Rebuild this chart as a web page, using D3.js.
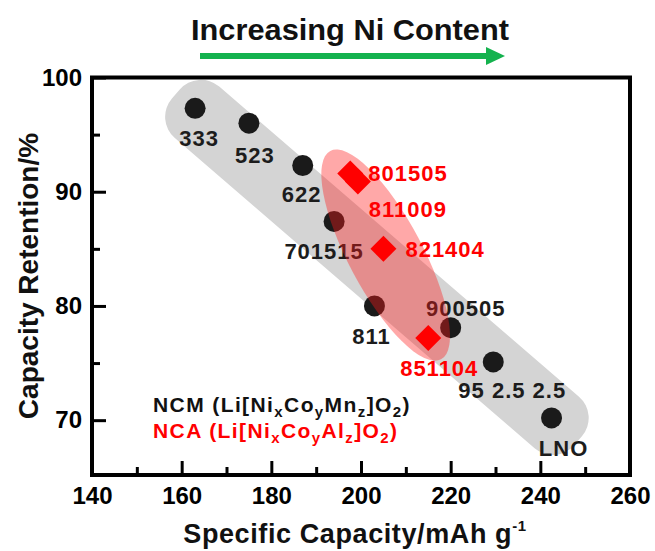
<!DOCTYPE html>
<html><head><meta charset="utf-8">
<script src="https://cdn.jsdelivr.net/npm/d3@7"></script>
<style>html,body{margin:0;padding:0;background:#fff;} svg{display:block;}</style>
</head><body>
<svg id="chart" width="655" height="551"></svg>
<script>
// NCM layered oxides, Li[NixCoyMnz]O2
const ncmNames = ["333", "523", "622", "701515", "811", "900505", "95 2.5 2.5", "LNO"];
const ncmCapacity = [163, 175, 187, 194, 203, 220, 229.5, 242.5];
const ncmRetention = [97.3, 96.0, 92.3, 87.4, 80.0, 78.1, 75.1, 70.2];

// NCA layered oxides, Li[NixCoyAlz]O2
const ncaNames = ["801505", "811009", "821404", "851104"];
const ncaCapacity = [197.6, 199.3, 205, 215];
const ncaRetention = [91.6, 90.9, 85.0, 77.2];

const xTicks = [140, 160, 180, 200, 220, 240, 260];
const xMinorTicks = [150, 170, 190, 210, 230, 250];
const yTicks = [70, 80, 90, 100];
const yMinorTicks = [75, 85, 95];

// label placement (pixel offsets from each marker)
const ncmLabelPos = {
  "333": [4, 38], "523": [6, 40], "622": [-1, 37], "701515": [-10, 38],
  "811": [-3, 38], "900505": [15, -12], "95 2.5 2.5": [19, 36], "LNO": [12, 38]
};
const ncaLabelPos = {
  "801505": [18, 8, "start"], "811009": [11, 36, "start"],
  "821404": [22, 8, "start"], "851104": [11, 38, "middle"]
};

const FONT = "'Liberation Sans', Arial, Helvetica, sans-serif";
const svg = d3.select("#chart").style("font-family", FONT).style("font-weight", "bold");

const x = d3.scaleLinear().domain([140, 260]).range([92, 630]);
const y = d3.scaleLinear().domain([65.2, 100]).range([475, 77.5]);

// title and direction arrow
svg.append("text").attr("x", 350).attr("y", 40).attr("text-anchor", "middle")
  .attr("font-size", 30).attr("textLength", 318).attr("lengthAdjust", "spacingAndGlyphs")
  .attr("fill", "#111").text("Increasing Ni Content");
svg.append("line").attr("x1", 200).attr("x2", 490).attr("y1", 56).attr("y2", 56)
  .attr("stroke", "#14b24e").attr("stroke-width", 6);
svg.append("path").attr("d", "M486,47 L505,56 L486,65 Z").attr("fill", "#14b24e");

// grey band behind the NCM series
const bandStart = [158.7, 98.55], bandEnd = [248.4, 68.2];
const p1 = [x(bandStart[0]), y(bandStart[1])], p2 = [x(bandEnd[0]), y(bandEnd[1])];
const bandLen = Math.hypot(p2[0] - p1[0], p2[1] - p1[1]);
const bandAng = Math.atan2(p2[1] - p1[1], p2[0] - p1[0]) * 180 / Math.PI;
svg.append("g").attr("transform", `translate(${p1[0]},${p1[1]}) rotate(${bandAng})`)
  .append("rect").attr("x", 0).attr("y", -34).attr("width", bandLen).attr("height", 68)
  .attr("rx", 28).attr("ry", 28).attr("fill", "#d4d4d4");

// NCM markers and labels
const ncm = ncmNames.map((n, i) => ({name: n, cap: ncmCapacity[i], ret: ncmRetention[i]}));
svg.append("g").selectAll("circle").data(ncm).join("circle")
  .attr("cx", d => x(d.cap)).attr("cy", d => y(d.ret)).attr("r", 10.5).attr("fill", "#1a1a1a");
svg.append("g").selectAll("text").data(ncm).join("text")
  .attr("x", d => x(d.cap) + ncmLabelPos[d.name][0]).attr("y", d => y(d.ret) + ncmLabelPos[d.name][1])
  .attr("text-anchor", "middle").attr("font-size", 22).attr("letter-spacing", 1)
  .attr("fill", "#1c1c1c").text(d => d.name);

// translucent red ellipse over the NCA series
const ellCenter = [205.5, 84.45];
svg.append("g").attr("transform", `translate(${x(ellCenter[0])},${y(ellCenter[1])}) rotate(62)`)
  .append("ellipse").attr("rx", 118).attr("ry", 37).attr("fill", "#ff1a1a").attr("fill-opacity", 0.38);

// NCA markers and labels
const nca = ncaNames.map((n, i) => ({name: n, cap: ncaCapacity[i], ret: ncaRetention[i]}));
const diamond = s => `M0,${-s}L${s},0L0,${s}L${-s},0Z`;
svg.append("g").selectAll("path").data(nca).join("path")
  .attr("transform", d => `translate(${x(d.cap)},${y(d.ret)})`).attr("d", diamond(13)).attr("fill", "#ff0000");
svg.append("g").selectAll("text").data(nca).join("text")
  .attr("x", d => x(d.cap) + ncaLabelPos[d.name][0]).attr("y", d => y(d.ret) + ncaLabelPos[d.name][1])
  .attr("text-anchor", d => ncaLabelPos[d.name][2]).attr("font-size", 22).attr("letter-spacing", 1)
  .attr("fill", "#ff0000").text(d => d.name);

// legend with chemical formulae (subscripts dropped a few pixels)
function formula(g, parts) {
  let prevSub = false;
  parts.forEach(([t, sub]) => {
    const isSub = !!sub;
    g.append("tspan").attr("dy", (isSub ? 5 : 0) - (prevSub ? 5 : 0))
      .attr("font-size", isSub ? 15 : 21).text(t);
    prevSub = isSub;
  });
}
const leg1 = svg.append("text").attr("x", 153).attr("y", 412).attr("fill", "#111").attr("letter-spacing", 1.4);
formula(leg1, [["NCM (Li[Ni"], ["x", 1], ["Co"], ["y", 1], ["Mn"], ["z", 1], ["]O"], ["2", 1], [")"]]);
const leg2 = svg.append("text").attr("x", 153).attr("y", 438).attr("fill", "#ff0000").attr("letter-spacing", 1.4);
formula(leg2, [["NCA (Li[Ni"], ["x", 1], ["Co"], ["y", 1], ["Al"], ["z", 1], ["]O"], ["2", 1], [")"]]);

// axes: inward ticks, heavy frame
const axisStyle = g => {
  g.select(".domain").remove();
  g.selectAll(".tick line").attr("stroke", "#000").attr("stroke-width", 3);
  g.selectAll(".tick text").attr("font-family", FONT).attr("font-weight", "bold").attr("font-size", 24).attr("fill", "#000");
};
svg.append("g").attr("transform", "translate(0,475)")
  .call(d3.axisBottom(x).tickValues(xTicks).tickSize(-14).tickPadding(12).tickFormat(d3.format("d"))).call(axisStyle);
svg.append("g").attr("transform", "translate(0,475)")
  .call(d3.axisBottom(x).tickValues(xMinorTicks).tickSize(-8).tickFormat("")).call(axisStyle);
svg.append("g").attr("transform", "translate(92,0)")
  .call(d3.axisLeft(y).tickValues(yTicks).tickSize(-14).tickPadding(10).tickFormat(d3.format("d"))).call(axisStyle);
svg.append("g").attr("transform", "translate(92,0)")
  .call(d3.axisLeft(y).tickValues(yMinorTicks).tickSize(-8).tickFormat("")).call(axisStyle);
svg.append("rect").attr("x", 92).attr("y", y(100)).attr("width", 630 - 92).attr("height", 475 - y(100))
  .attr("fill", "none").attr("stroke", "#000").attr("stroke-width", 4);

// axis titles
const xt = svg.append("text").attr("x", 355).attr("y", 543).attr("text-anchor", "middle")
  .attr("font-size", 27).attr("letter-spacing", 0.6).attr("fill", "#111");
xt.append("tspan").text("Specific Capacity/mAh g");
xt.append("tspan").attr("dy", -12).attr("font-size", 15).text("-1");
svg.append("text").attr("transform", "translate(38,276) rotate(-90)").attr("text-anchor", "middle")
  .attr("font-size", 28).attr("fill", "#111").text("Capacity Retention/%");
</script>
</body></html>
